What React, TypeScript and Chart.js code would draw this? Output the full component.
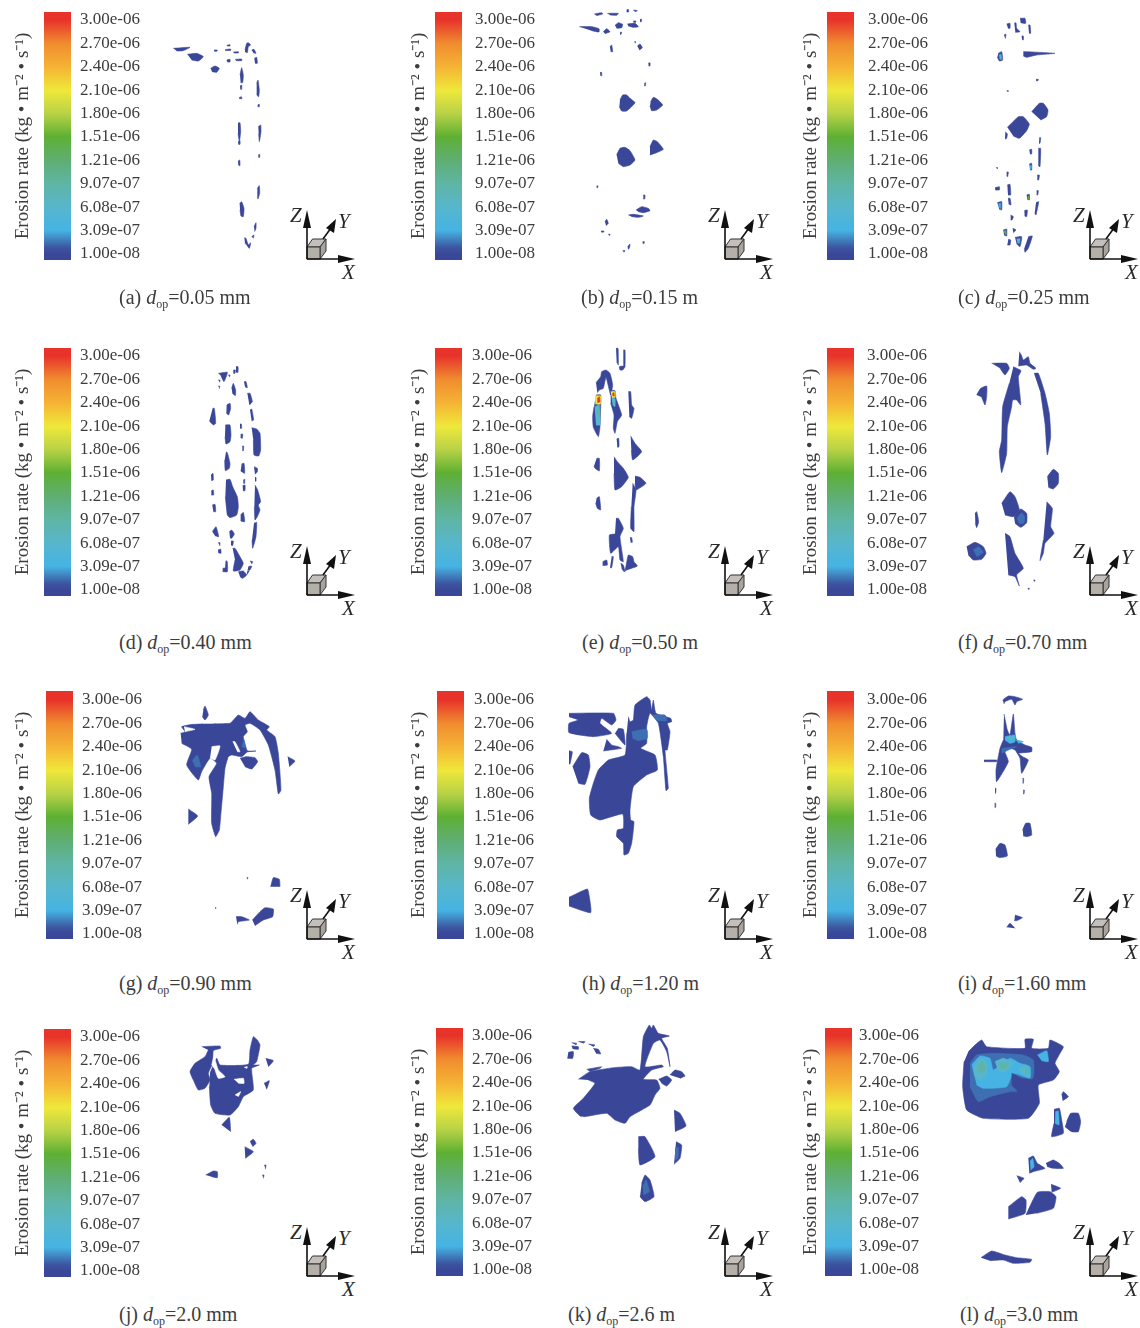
import React, { useEffect, useRef } from "react";
import { Chart, registerables } from "chart.js";

Chart.register(...registerables);

type Blob = [number, number[]];

// Colour bar
const tickLabels = ["1.00e-08", "3.09e-07", "6.08e-07", "9.07e-07", "1.21e-06", "1.51e-06", "1.80e-06", "2.10e-06", "2.40e-06", "2.70e-06", "3.00e-06"];
const tickValues = tickLabels.map(Number);
const colorRates = [0.01e-6, 0.09e-6, 0.309e-6, 0.608e-6, 0.907e-6, 1.21e-6, 1.51e-6, 1.8e-6, 2.1e-6, 2.4e-6, 2.7e-6, 3e-6];
const colorStops = ["#3a4799", "#3c559f", "#45b3e3", "#57b6cc", "#5fb5a5", "#5fae72", "#5eb033", "#b7d246", "#efe83a", "#f5b335", "#f08c2f", "#e8332b"];
const rateBase = 1e-8; // lowest contour level
const low = 1.5e-7; // weak contour level
const mid = 3.09e-7;
const teal = 6.08e-7;
const pale = 9.07e-7;
const grn = 1.51e-6;
const yel = 2.1e-6;
const red = 3e-6;
const hole = 0; // surface without erosion

const panelA: Blob[] = [
  [rateBase, [520,145,570,142,550,152,530,153]], [rateBase, [562,163,590,160,610,170,595,183,575,180]], [rateBase, [632,205,645,198,658,205,650,217,636,215]],
  [rateBase, [642,150,652,150,650,154,643,154]], [rateBase, [680,136,690,134,690,138,682,138]], [rateBase, [675,149,692,147,692,151,676,152]],
  [rateBase, [700,156,715,155,715,159,702,159]], [rateBase, [680,180,690,178,690,186,682,186]], [rateBase, [706,178,725,177,725,182,708,182]],
  [rateBase, [735,150,740,130,745,128,752,135,745,140,742,158,735,155]], [rateBase, [755,150,762,148,768,160,760,158]], [rateBase, [763,175,770,172,772,190,765,190]],
  [rateBase, [720,225,725,203,730,225,728,248,722,248]], [rateBase, [720,258,725,255,725,268,721,268]], [rateBase, [717,293,724,290,726,296,718,296]],
  [rateBase, [770,250,774,240,778,270,776,290,770,285]], [rateBase, [773,315,778,313,778,320,773,320]], [rateBase, [714,370,720,368,722,395,718,425,714,400]],
  [rateBase, [714,425,720,422,720,433,715,433]], [rateBase, [775,380,782,375,783,395,778,425,776,400]], [rateBase, [775,465,779,463,779,472,775,472]],
  [rateBase, [714,484,719,480,720,497,715,495]], [rateBase, [772,565,778,557,779,580,774,597,772,590]], [rateBase, [719,610,725,605,732,625,730,650,723,648,720,630]],
  [rateBase, [762,680,768,668,768,685,764,695]], [rateBase, [733,713,738,715,745,735,752,728,748,745,740,735,735,730]], [rateBase, [755,710,762,705,760,715]],
];

const panelB: Blob[] = [
  [rateBase, [583,42,605,38,608,42,590,47]], [rateBase, [622,40,655,40,650,46,630,45]], [rateBase, [680,30,685,28,686,36,680,36]], [rateBase, [700,30,712,32,705,35]],
  [rateBase, [538,80,575,80,597,86,597,96,575,92]], [rateBase, [610,95,620,86,630,95,615,101]], [rateBase, [645,76,655,68,668,73,665,83,650,85]],
  [rateBase, [682,72,705,70,715,80,700,82,685,78]], [rateBase, [700,63,708,63,706,68,700,67]], [rateBase, [720,58,725,58,724,65,720,65]], [rateBase, [660,97,665,97,663,103,660,103]],
  [rateBase, [630,140,635,135,638,155,632,155]], [rateBase, [712,138,720,132,727,143,718,150]], [rateBase, [703,125,707,125,706,130]], [rateBase, [745,190,750,188,750,198,746,198]],
  [rateBase, [600,218,605,217,605,228,601,226]], [rateBase, [733,250,737,248,736,258,733,258]],
  [rateBase, [660,300,668,285,680,285,690,295,705,308,680,333,665,333,658,320]], [rateBase, [752,305,760,292,772,298,788,315,770,330,755,332,750,318]],
  [rateBase, [650,465,660,445,675,442,690,452,705,480,690,495,670,500,655,490]], [rateBase, [750,440,760,420,772,425,790,448,770,458,750,465]],
  [rateBase, [590,558,594,557,593,563,590,563]], [rateBase, [730,585,735,585,734,597,730,597]], [rateBase, [708,630,725,620,745,625,750,632,730,638,715,635]],
  [rateBase, [685,645,700,643,730,648,715,652,695,650]], [rateBase, [615,665,620,658,625,670,618,677]], [rateBase, [603,693,612,693,610,697,604,696]],
  [rateBase, [625,703,630,702,628,708]], [rateBase, [683,740,690,732,688,745,684,748]], [rateBase, [668,752,675,752,672,757]], [rateBase, [728,725,733,725,732,731,728,730]],
];

const panelC: Blob[] = [
  [rateBase, [680,72,690,70,690,85,684,85]], [rateBase, [703,70,708,68,710,85,720,95,706,97]], [rateBase, [720,55,735,55,737,70,722,68]], [rateBase, [745,75,750,75,752,100,747,100]],
  [rateBase, [725,108,730,108,730,120,726,118]], [rateBase, [672,105,678,103,676,116]], [rateBase, [655,160,665,155,668,180,658,183,652,172]],
  [rateBase, [730,155,740,155,825,160,770,165,740,172,730,168]], [rateBase, [768,238,775,238,774,242,768,242]], [rateBase, [680,272,685,272,684,276]],
  [rateBase, [755,335,778,310,790,310,804,330,800,350,782,360]], [rateBase, [682,382,715,350,730,350,748,372,740,392,718,415,700,408]],
  [rateBase, [676,395,682,402,680,415,675,417]], [rateBase, [778,413,782,413,780,430,777,430]], [rateBase, [748,450,755,448,755,462,750,462]], [rateBase, [775,445,782,445,780,500,775,497]],
  [rateBase, [748,492,755,490,755,510,750,510]], [rateBase, [772,525,778,525,776,540,772,540]], [rateBase, [680,516,685,516,683,530,680,528]], [rateBase, [648,503,653,503,652,507]],
  [rateBase, [645,563,658,560,658,570,646,570]], [rateBase, [682,555,690,553,692,585,684,585]], [rateBase, [684,595,690,595,693,615,686,612]], [rateBase, [652,608,665,605,665,630,658,628]],
  [rateBase, [740,585,748,583,748,600,742,598]], [rateBase, [770,572,775,572,773,585,770,585]], [rateBase, [768,608,776,605,768,645,764,640]], [rateBase, [733,632,742,630,740,650,734,648]],
  [rateBase, [692,645,700,650,696,660,692,660]], [rateBase, [670,690,680,687,680,708,672,705]], [rateBase, [698,685,708,690,700,698]], [rateBase, [685,718,692,720,690,735,682,735]],
  [rateBase, [705,712,725,710,720,740,710,732]], [rateBase, [745,710,757,708,745,745,735,757,733,745]],
  [teal, [657,165,663,163,665,178,659,178]], [grn, [743,590,747,588,746,597,743,596]], [grn, [672,693,678,692,678,703,674,702]], [mid, [750,497,754,497,753,507,750,507]],
  [mid, [655,612,662,610,662,625,658,622]], [teal, [710,718,720,716,718,730,712,728]],
];

const panelD: Blob[] = [
  [rateBase, [205,100,232,97,222,125,213,108]], [rateBase, [205,120,210,120,209,127]], [rateBase, [205,138,209,138,208,146]], [rateBase, [235,105,240,105,238,111]],
  [rateBase, [250,90,256,90,255,100,250,100]], [rateBase, [258,80,264,80,264,97,258,97]], [rateBase, [282,125,288,125,292,143,285,140]], [rateBase, [245,145,250,130,257,150,256,167,247,160]],
  [rateBase, [292,160,300,160,307,185,298,195]], [rateBase, [300,210,305,207,311,240,305,243]], [rateBase, [230,195,240,190,242,205,236,225,229,220]], [rateBase, [188,205,193,205,197,250,190,255,178,243]],
  [rateBase, [226,255,240,255,243,285,240,305,228,312,225,290]], [rateBase, [270,252,274,252,275,265,270,265]], [rateBase, [272,283,278,282,277,295,272,293]], [rateBase, [277,318,281,318,280,332,277,332]],
  [rateBase, [305,263,320,267,330,280,332,330,326,348,312,345,310,300]], [rateBase, [228,335,232,338,240,370,238,385,226,392,224,360]], [rateBase, [275,372,282,370,284,400,272,393]],
  [rateBase, [312,380,322,385,322,395,315,403]], [rateBase, [183,405,189,400,190,420,184,422]], [rateBase, [184,452,190,450,191,465,184,465]], [rateBase, [187,495,195,493,197,515,190,515]],
  [rateBase, [280,420,284,418,284,430,280,430]], [rateBase, [278,437,285,435,285,452,279,452]], [rateBase, [315,412,318,412,318,424,315,422]],
  [rateBase, [315,435,323,450,332,485,325,495,330,510,322,530,315,540,313,500]], [rateBase, [228,420,240,418,248,440,262,470,265,500,260,525,240,533,232,525,226,470]],
  [rateBase, [272,525,280,517,284,545,272,543]], [rateBase, [187,575,198,560,206,590,195,587]], [rateBase, [238,575,245,570,253,582,245,595,240,593]], [rateBase, [243,603,250,603,248,617,243,615]],
  [rateBase, [205,608,210,608,209,618]], [rateBase, [204,630,212,627,213,640,205,638]], [rateBase, [312,550,320,547,318,590,308,625,306,600]], [rateBase, [218,685,226,683,228,662,232,665,232,695,218,695]],
  [rateBase, [248,625,255,625,270,650,280,670,270,690,250,693,255,660]], [rateBase, [265,695,280,693,290,705,278,715,270,710]], [rateBase, [295,680,305,678,300,690,293,690]],
  [rateBase, [300,663,308,665,305,672]], [rateBase, [292,693,298,692,290,705]],
];

const panelE: Blob[] = [
  [rateBase, [168,25,174,25,175,50,175,75,170,65]], [rateBase, [190,30,195,30,195,80,188,90,180,90,178,80,190,78]],
  [rateBase, [108,128,122,110,125,95,138,90,150,100,158,135,152,165,138,112,130,145,118,150,112,158]], [rateBase, [205,155,212,155,215,195,222,205,215,235,208,230]],
  [rateBase, [108,165,122,165,122,200,120,260,115,290,100,262,98,230,102,200]], [teal, [104,200,118,195,120,255,108,255]], [yel, [105,168,122,168,121,192,106,192]], [red, [112,175,118,170,120,185,112,188]], [pale, [110,210,118,208,118,225,112,225]],
  [rateBase, [152,152,165,152,168,175,185,225,172,245,165,280,160,265,162,225,152,190]], [yel, [152,155,165,155,165,172,156,175]], [teal, [155,175,165,175,165,200,158,195]], [red, [157,160,162,158,163,168,158,168]],
  [rateBase, [170,297,176,295,177,320,172,322]], [rateBase, [212,288,225,310,245,335,218,360,214,330]], [rateBase, [110,355,118,355,118,393,105,385,102,378]],
  [rateBase, [162,350,172,365,190,385,205,412,185,440,165,450,162,400]], [rateBase, [225,408,240,412,258,430,228,450,225,430]], [rateBase, [218,430,228,450,222,500,222,575,212,565,214,500]],
  [rateBase, [110,475,118,470,122,510,112,505,107,490]], [rateBase, [168,535,175,535,190,565,180,590,190,665,180,660,175,620,152,640,148,585,165,582]], [rateBase, [210,593,215,593,217,607,212,607]],
  [rateBase, [128,665,140,660,142,675,128,677]], [rateBase, [155,650,160,650,155,683,150,683]], [rateBase, [182,670,190,675,195,692,205,645,218,650,222,665,232,678,200,690,192,695,185,685]],
];

const panelF: Blob[] = [
  [rateBase, [208,35,214,45,220,60,235,50,240,70,258,85,250,88,230,75,205,78]], [rateBase, [125,70,170,70,178,85,165,105,150,85]],
  [rateBase, [190,80,213,92,205,110,210,165,212,195,200,180,188,180,185,200,172,260,170,340,155,398,148,335,155,300,158,200,178,130]],
  [rateBase, [252,100,265,100,285,160,298,220,302,290,292,345,285,250,272,160]], [rateBase, [80,165,92,145,110,138,110,170,105,195,95,172]], [rateBase, [292,410,310,388,325,400,325,430,310,447,295,442]],
  [rateBase, [155,490,180,455,195,470,208,510,190,530,165,525]], [rateBase, [192,530,212,507,230,520,230,548,212,562,195,550]], [low, [200,535,215,518,224,530,222,548,208,552]],
  [rateBase, [75,520,80,515,86,545,80,563,76,550]], [rateBase, [50,620,75,607,100,620,108,640,95,658,70,660,55,645]], [low, [70,630,85,620,100,637,80,650]],
  [rateBase, [165,580,180,590,195,640,220,685,200,705,208,738,195,710,175,705]], [rateBase, [290,485,307,505,302,560,312,580,285,610,280,640,270,662,280,600]],
  [rateBase, [250,720,255,720,254,725]], [rateBase, [233,745,238,745,236,750]],
];

const panelG: Blob[] = [
  [rateBase, [130,60,135,48,145,75,135,90,127,80]],
  [rateBase, [62,130,75,125,65,110,100,103,210,100,225,85,235,75,255,85,270,65,295,90,328,110,320,120,345,140,355,190,363,300,355,312,345,240,325,165,300,120,270,100,255,105,262,125,250,140,262,182,288,183,262,186,245,200,215,195,205,200,195,235,190,290,182,380,178,420,167,440,155,400,155,310,147,260,170,220,150,205,125,245,115,270,80,225,95,178,65,160]],
  [hole, [155,170,180,168,165,210,150,205]], [hole, [218,155,225,155,240,185,232,185]], [hole, [72,110,105,118,75,125]],
  [rateBase, [240,205,258,200,285,203,293,215,275,237,255,230]], [rateBase, [383,200,405,213,388,230]], [rateBase, [85,357,113,378,85,403]],
  [low, [97,212,112,195,122,230,105,230]], [low, [245,170,252,150,258,175]],
  [rateBase, [332,590,340,563,358,568,360,590]], [rateBase, [260,563,264,563,262,568]], [rateBase, [165,653,168,653,167,657]], [rateBase, [228,680,245,680,268,690,235,695,232,703]],
  [rateBase, [277,690,300,665,315,653,340,657,338,680,310,690,285,707]],
];

const panelH: Blob[] = [
  [rateBase, [57,70,190,70,198,90,185,105,155,85,150,100,185,130,130,140,57,128,57,100,85,90,57,80]], [rateBase, [205,115,220,118,225,165,195,130]], [rateBase, [170,148,185,165,205,170,215,175,160,183]],
  [rateBase, [57,182,67,185,60,222,57,222]], [rateBase, [68,230,95,188,115,195,120,230,105,283,85,280]],
  [rateBase, [235,80,240,95,250,90,255,45,290,20,300,30,305,60,310,30,318,70,362,85,365,95,352,100,360,125,352,180,345,180,355,295,348,302,340,200,325,100,300,70,290,110,290,160,272,175,315,195,322,240,290,255,250,290,240,360,242,390,252,395,245,460,235,490,222,495,220,460,200,440,202,420,220,415,218,372,150,390,122,375,118,325,130,280,145,240,175,210,225,195,230,130]],
  [low, [245,125,290,118,292,145,265,152,248,145]], [low, [305,75,345,75,350,92,320,92]], [rateBase, [57,622,112,597,118,620,122,668,57,648]],
];

const panelI: Blob[] = [
  [rateBase, [128,30,145,18,165,20,188,28,170,35,165,45,155,28,135,35,132,42]],
  [rateBase, [132,72,142,120,150,135,160,72,165,130,170,150,195,165,215,172,215,185,175,190,188,200,205,210,185,250,180,205,165,180,150,175,135,185,145,215,110,275,108,240,120,175,130,150]],
  [rateBase, [72,210,110,210,110,215,72,215]], [mid, [135,140,165,135,165,155,150,160,135,150]], [teal, [140,142,160,140,158,150,145,148]], [mid, [168,150,190,155,175,160]], [low, [125,175,170,170,150,178,125,190]],
  [rateBase, [105,295,108,295,107,310,105,310]], [rateBase, [104,340,107,340,107,352,104,352]], [rateBase, [188,265,191,265,190,280,188,280]], [rateBase, [190,300,193,300,192,312,190,312]],
  [rateBase, [188,420,197,400,210,400,215,435,200,440,190,438]], [rateBase, [107,478,120,460,135,465,142,498,120,503,108,498]], [rateBase, [165,675,187,683,170,692,163,692]], [rateBase, [140,712,150,700,165,715]],
];

const panelJ: Blob[] = [
  [rateBase, [95,50,150,48,152,55,130,62,128,100,115,130,120,150,105,175,85,180,70,150,60,125,75,100,105,80,115,60]],
  [rateBase, [120,130,140,85,150,105,235,103,240,60,250,20,262,30,270,45,260,95,250,105,268,105,245,115,250,180,220,200,205,230,180,255,135,250,122,225,118,170]],
  [hole, [125,105,132,80,145,120,165,140,145,145,135,120]], [hole, [192,148,220,145,222,160,205,160]], [hole, [195,195,212,185,205,200]], [hole, [222,112,232,110,230,116]],
  [rateBase, [287,85,310,92,295,110]], [rateBase, [282,160,298,152,290,178]], [rateBase, [155,285,178,262,182,305]], [rateBase, [240,335,250,328,258,340,248,350]], [rateBase, [224,350,250,365,226,385]],
  [rateBase, [107,435,130,423,142,425,142,443,125,440]], [rateBase, [283,405,288,405,286,418]], [rateBase, [277,435,282,435,280,445]],
];

const panelK: Blob[] = [
  [rateBase, [35,68,50,70,48,75]], [rateBase, [55,65,75,65,70,70]], [rateBase, [85,72,105,75,100,80]], [rateBase, [35,78,55,80,55,88,38,86]], [rateBase, [100,85,115,88,122,102,108,100]], [rateBase, [25,97,40,95,38,115,22,115]],
  [rateBase, [80,148,125,140,120,145,90,155]],
  [rateBase, [55,178,90,155,160,143,215,140,240,150,250,50,268,15,275,25,280,15,295,40,328,48,305,55,322,85,330,140,320,95,300,60,280,70,255,140,305,135,310,140,275,150,250,178,290,180,300,205,285,225,270,255,210,290,195,310,165,300,140,280,75,290,60,288,40,265,70,235,105,190,85,180]],
  [rateBase, [296,178,320,168,335,180,320,198,305,190]], [rateBase, [330,165,345,150,365,155,375,168,360,175]], [rateBase, [342,270,360,280,378,318,345,335]], [rateBase, [235,350,255,350,285,410,240,435,235,385]],
  [rateBase, [348,365,365,375,360,415,342,433]], [low, [345,385,355,382,354,415,345,420]], [rateBase, [245,490,255,465,270,480,282,530,255,545,240,530]], [low, [248,500,258,480,268,515,250,525]],
];

const panelL: Blob[] = [
  [rateBase, [55,65,75,45,95,30,110,50,225,55,225,28,250,28,245,55,295,55,300,30,340,50,330,70,315,100,328,125,310,150,265,165,268,220,235,265,100,265,50,240,38,170,42,95]],
  [low, [60,100,80,75,130,70,220,75,250,90,250,140,215,185,180,185,120,200,85,215,60,170]], [mid, [65,105,90,78,120,85,130,120,180,85,210,100,240,110,240,145,190,130,170,170,100,175,80,165]],
  [teal, [70,115,90,85,110,95,110,135,85,150,72,135]], [teal, [135,95,160,85,190,100,170,125,145,125]], [teal, [205,115,230,105,238,140,215,130]], [mid, [262,75,290,62,295,95,275,92]],
  [rateBase, [185,130,215,145,250,150,245,165,235,210,205,190,200,180,185,165]], [pale, [85,100,100,95,105,125,85,125]], [pale, [145,100,175,100,165,115,150,115]], [pale, [225,115,232,115,232,130,225,125]],
  [rateBase, [335,195,340,185,355,200,338,212]], [rateBase, [312,238,328,235,335,270,340,310,305,320,312,280]], [mid, [316,245,325,243,327,285,315,280]],
  [rateBase, [350,275,362,250,385,250,392,275,385,305,365,305,345,290]], [rateBase, [235,385,250,378,262,400,285,415,250,425,238,430]], [mid, [240,395,248,385,252,410,242,420]],
  [rateBase, [288,400,310,390,328,400,340,415,310,415,292,410]], [rateBase, [200,437,222,445,210,458]], [rateBase, [303,463,332,475,305,487]],
  [rateBase, [175,530,215,500,228,510,225,550,175,567]], [rateBase, [228,555,262,487,300,485,318,500,310,535,260,550]],
  [rateBase, [93,683,125,663,165,675,200,683,245,688,240,697,190,700,160,690,120,692]],
];

const captionTags = ["(a)", "(b)", "(c)", "(d)", "(e)", "(f)", "(g)", "(h)", "(i)", "(j)", "(k)", "(l)"];
const captionValues = ["0.05 mm", "0.15 m", "0.25 mm", "0.40 mm", "0.50 m", "0.70 mm", "0.90 mm", "1.20 m", "1.60 mm", "2.0 mm", "2.6 m", "3.0 mm"];
const blobs = [panelA, panelB, panelC, panelD, panelE, panelF, panelG, panelH, panelI, panelJ, panelK, panelL];

// Layout, px in the picture
const cropBoxes = [[0,0,380,320],[400,0,380,320],[780,0,360,320],[150,340,160,260],[560,340,140,260],[950,340,130,260],[160,690,160,250],[550,690,150,250],[960,690,110,250],[170,1030,120,160],[560,1020,140,190],[950,1030,140,250]];
const barLeft = [44,435,827,44,435,827,46,437,827,44,436,825];
const barTop = [12,12,12,348,348,348,691,691,691,1029,1028,1028];
const tickShift = [1,1,1,1,1,1,2,2,2,1,1,1];
const labelGap = [9,13,14,9,10,13,9,10,13,9,9,7];
const titleGap = [22,17,17,22,17,17,24,19,17,22,18,15];
const captionX = [119,581,958,119,582,958,119,582,958,119,568,960];
const captionY = [297,297,297,642,642,642,983,983,983,1314,1314,1314];
const triadX = [307,725,1090,307,725,1090,307,725,1090,307,725,1090];
const triadY = [259,259,259,595,595,595,939,939,939,1276,1276,1276];

const barH = 248;
const barW = 27;
const serif = "'Liberation Serif', serif";
const ink = "#3c3c3c";

function hex(c: string) {
  return [1, 3, 5].map((i) => parseInt(c.slice(i, i + 2), 16));
}
function colorFor(rate: number) {
  if (rate === 0) return "#ffffff";
  for (let i = 1; i < colorRates.length; i++) {
    if (rate <= colorRates[i]) {
      const t = Math.max(0, (rate - colorRates[i - 1]) / (colorRates[i] - colorRates[i - 1]));
      const a = hex(colorStops[i - 1]);
      const b = hex(colorStops[i]);
      return `rgb(${a.map((v, k) => Math.round(v + (b[k] - v) * t)).join(",")})`;
    }
  }
  return colorStops[colorStops.length - 1];
}

function ColorBar({ i }: { i: number }) {
  const ref = useRef<HTMLCanvasElement>(null);
  const leftW = titleGap[i] + 10;
  const rightW = 80;
  useEffect(() => {
    const perPx = (3e-6 - 1e-8) / 234;
    const yMin = 1e-8 - (7 - tickShift[i]) * perPx;
    const yMax = 3e-6 + (7 + tickShift[i]) * perPx;
    const g = ref.current!.getContext("2d")!.createLinearGradient(0, barH, 0, 0);
    colorRates.forEach((r, k) => g.addColorStop(Math.min(1, Math.max(0, (r - yMin) / (yMax - yMin))), colorStops[k]));
    const noPad = (axis: any, width: number) => {
      axis.width = width;
      axis.paddingTop = 0;
      axis.paddingBottom = 0;
    };
    const chart = new Chart(ref.current!, {
      type: "bar",
      data: {
        labels: ["Erosion rate"],
        datasets: [{
          data: [[yMin, yMax]],
          barPercentage: 1,
          categoryPercentage: 1,
          borderWidth: 0,
          yAxisID: "y",
          backgroundColor: g,
        }],
      } as any,
      options: {
        animation: false,
        responsive: false,
        layout: { padding: 0 },
        plugins: { legend: { display: false }, tooltip: { enabled: false } },
        scales: {
          x: { display: false },
          y: {
            position: "right",
            min: yMin,
            max: yMax,
            grid: { display: false, drawTicks: false },
            border: { display: false },
            afterBuildTicks: (axis: any) => { axis.ticks = tickValues.map((value) => ({ value })); },
            afterFit: (axis: any) => noPad(axis, rightW),
            ticks: {
              autoSkip: false,
              minRotation: 0,
              maxRotation: 0,
              padding: labelGap[i],
              color: ink,
              font: { family: "'Liberation Serif'", size: 17 },
              callback: (_v: any, k: number) => tickLabels[k],
            },
          },
          yTitle: {
            position: "left",
            min: yMin,
            max: yMax,
            grid: { display: false, drawTicks: false },
            border: { display: false },
            ticks: { display: false },
            afterFit: (axis: any) => noPad(axis, leftW),
            title: {
              display: true,
              text: "Erosion rate (kg \u2022 m\u207B\u00B2 \u2022 s\u207B\u00B9)",
              color: ink,
              padding: 0,
              font: { family: "'Liberation Serif'", size: 19 },
            },
          },
        },
      } as any,
    });
    return () => chart.destroy();
  }, []);
  return (
    <canvas
      ref={ref}
      width={leftW + barW + rightW}
      height={barH}
      style={{ position: "absolute", left: barLeft[i] - leftW, top: barTop[i], width: leftW + barW + rightW, height: barH }}
    />
  );
}

function Contours({ i }: { i: number }) {
  const ref = useRef<HTMLCanvasElement>(null);
  const [x, y, w, h] = cropBoxes[i];
  useEffect(() => {
    const datasets = blobs[i].map(([rate, pts], k) => {
      const color = colorFor(rate);
      const data = [];
      for (let n = 0; n < pts.length; n += 2) data.push({ x: pts[n], y: pts[n + 1] });
      return { data, showLine: true, fill: "shape", tension: 0.15, backgroundColor: color, borderColor: color, borderWidth: 0.6, pointRadius: 0, order: -k };
    });
    const chart = new Chart(ref.current!, {
      type: "scatter",
      data: { datasets } as any,
      options: {
        animation: false,
        responsive: false,
        layout: { padding: 0 },
        plugins: { legend: { display: false }, tooltip: { enabled: false } },
        scales: {
          x: { type: "linear", display: false, min: 0, max: w * 3 },
          y: { type: "linear", display: false, min: 0, max: h * 3, reverse: true },
        },
      } as any,
    });
    return () => chart.destroy();
  }, []);
  return (
    <canvas
      ref={ref}
      width={w}
      height={h}
      style={{ position: "absolute", left: x, top: y, width: w, height: h, filter: "blur(0.4px)" }}
    />
  );
}

function Triad({ i }: { i: number }) {
  const t = { fontFamily: serif, fontStyle: "italic", fontSize: 21, fill: "#2a2a2a" } as any;
  return (
    <svg width={90} height={90} viewBox="-25 -65 90 90" style={{ position: "absolute", left: triadX[i] - 25, top: triadY[i] - 65 }}>
      <polygon points="0,-12 5.5,-20 19,-20 13,-12" fill="#c4bfba" stroke="#333" strokeWidth={1} />
      <polygon points="13,-12 19,-20 19,-8 13,0" fill="#a9a39e" stroke="#333" strokeWidth={1} />
      <rect x={0} y={-12} width={13} height={12} fill="#b5afa9" stroke="#333" strokeWidth={1} />
      <line x1={0} y1={0} x2={0} y2={-32} stroke="#111" strokeWidth={1.6} />
      <polygon points="0,-49 -4,-31 4,-31" fill="#111" />
      <line x1={0} y1={0} x2={33} y2={0} stroke="#111" strokeWidth={1.6} />
      <polygon points="48,0 31,-4 31,4" fill="#111" />
      <line x1={16} y1={-20} x2={24} y2={-31} stroke="#111" strokeWidth={1.6} />
      <polygon points="29,-40 19,-31 27,-26" fill="#111" />
      <text x={-17} y={-37} {...t}>Z</text>
      <text x={31} y={-31} {...t}>Y</text>
      <text x={35} y={20} {...t}>X</text>
    </svg>
  );
}

function Caption({ i }: { i: number }) {
  return (
    <div style={{ position: "absolute", left: captionX[i], top: captionY[i] - 11, fontFamily: serif, fontSize: 20, lineHeight: "22px", color: ink, whiteSpace: "pre" }}>
      {captionTags[i]} <i>d</i>
      <sub style={{ fontSize: 12, lineHeight: 0, verticalAlign: "-4px" }}>op</sub>={captionValues[i]}
    </div>
  );
}

export default function App() {
  return (
    <div style={{ position: "absolute", left: 0, top: 0, width: 1140, height: 1328, overflow: "hidden", background: "#fff" }}>
      {captionTags.map((_, i) => (
        <React.Fragment key={i}>
          <Contours i={i} />
          <ColorBar i={i} />
          <Triad i={i} />
          <Caption i={i} />
        </React.Fragment>
      ))}
    </div>
  );
}
